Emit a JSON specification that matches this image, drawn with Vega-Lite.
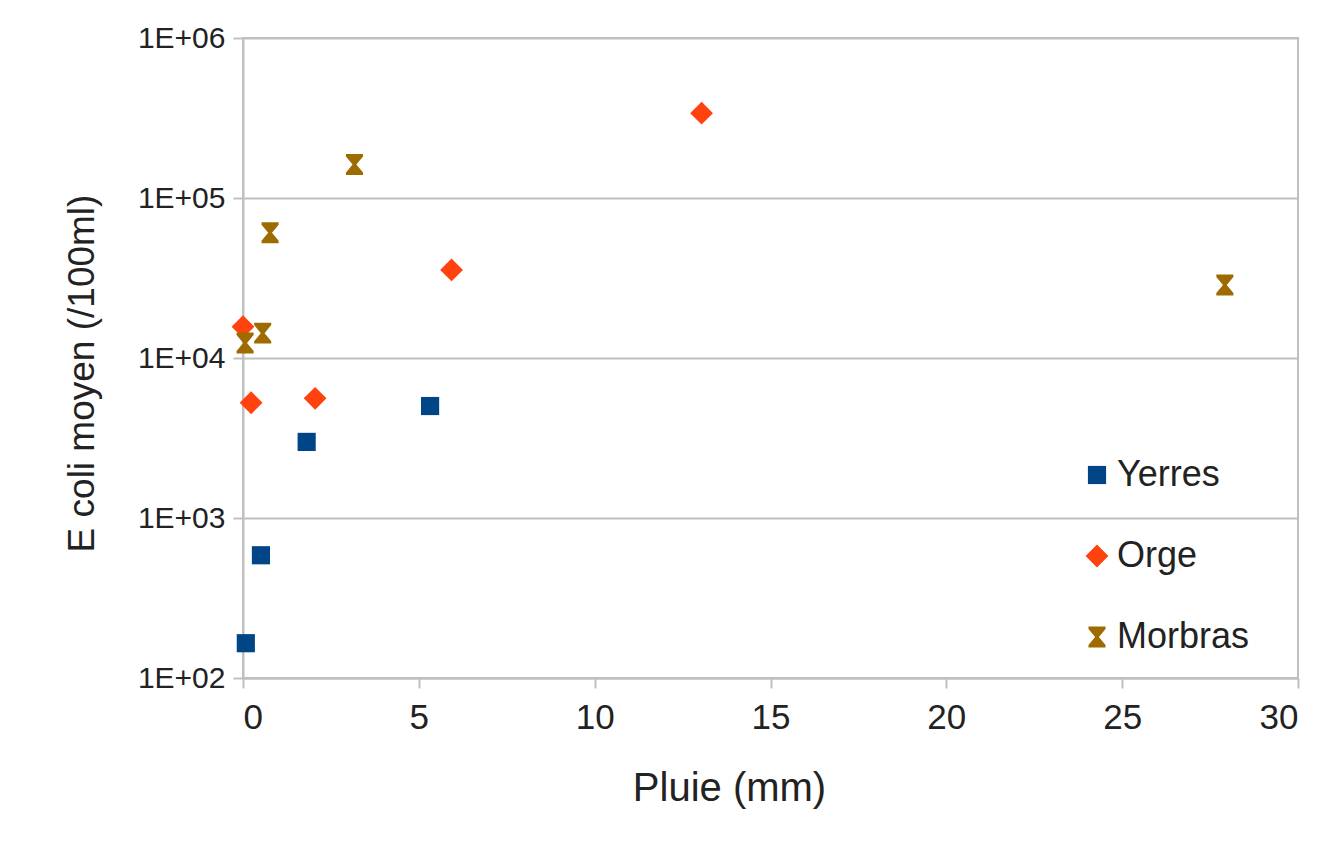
{
  "$schema": "https://vega.github.io/schema/vega-lite/v6.json",
  "width": 1055,
  "height": 640,
  "autosize": "none",
  "padding": {"left": 243, "top": 38, "right": 34, "bottom": 167},
  "background": "white",
  "config": {
    "font": "Liberation Sans",
    "view": {"stroke": "#c0c0c0", "strokeWidth": 2}
  },
  "data": {
    "values": [
      {"serie": "Yerres", "pluie": 0.08, "ecoli": 165},
      {"serie": "Yerres", "pluie": 0.51, "ecoli": 585},
      {"serie": "Yerres", "pluie": 1.81, "ecoli": 2990},
      {"serie": "Yerres", "pluie": 5.32, "ecoli": 5010},
      {"serie": "Orge", "pluie": 0.0, "ecoli": 15700},
      {"serie": "Orge", "pluie": 0.23, "ecoli": 5250},
      {"serie": "Orge", "pluie": 2.05, "ecoli": 5600},
      {"serie": "Orge", "pluie": 5.93, "ecoli": 35500},
      {"serie": "Orge", "pluie": 13.04, "ecoli": 339000},
      {"serie": "Morbras", "pluie": 0.06, "ecoli": 12400},
      {"serie": "Morbras", "pluie": 0.56, "ecoli": 14300},
      {"serie": "Morbras", "pluie": 0.77, "ecoli": 60600},
      {"serie": "Morbras", "pluie": 3.17, "ecoli": 162000},
      {"serie": "Morbras", "pluie": 27.92, "ecoli": 28600}
    ]
  },
  "mark": {"type": "point", "filled": true, "opacity": 1, "strokeWidth": 0},
  "encoding": {
    "x": {
      "field": "pluie",
      "type": "quantitative",
      "scale": {"domain": [0, 30], "nice": false, "zero": false},
      "axis": {
        "title": "Pluie (mm)",
        "titleX": 486,
        "values": [0, 5, 10, 15, 20, 25, 30],
        "format": "d",
        "grid": false,
        "domain": true,
        "domainColor": "#c0c0c0",
        "domainWidth": 2,
        "ticks": true,
        "tickSize": 10,
        "tickColor": "#c0c0c0",
        "tickWidth": 2,
        "labelFontSize": 35,
        "labelColor": "#222222",
        "labelPadding": 12,
        "titleFontSize": 40,
        "titleFontWeight": "normal",
        "titleColor": "#222222",
        "titlePadding": 33
      }
    },
    "y": {
      "field": "ecoli",
      "type": "quantitative",
      "scale": {"type": "log", "domain": [100, 1000000], "nice": false},
      "axis": {
        "title": "E coli moyen (/100ml)",
        "titleY": 335,
        "values": [100, 1000, 10000, 100000, 1000000],
        "labelExpr": "'1E+0' + format(log(datum.value) / LN10, '.0f')",
        "grid": true,
        "gridColor": "#c0c0c0",
        "gridWidth": 2,
        "domain": true,
        "domainColor": "#c0c0c0",
        "domainWidth": 2,
        "ticks": true,
        "tickSize": 10,
        "tickColor": "#c0c0c0",
        "tickWidth": 2,
        "labelFontSize": 30,
        "labelColor": "#222222",
        "labelPadding": 8,
        "titleFontSize": 37,
        "titleFontWeight": "normal",
        "titleColor": "#222222",
        "titlePadding": 36
      }
    },
    "color": {
      "field": "serie",
      "type": "nominal",
      "scale": {"domain": ["Yerres", "Orge", "Morbras"], "range": ["#004586", "#ff420e", "#9e6b00"]},
      "legend": {
        "title": null,
        "orient": "none",
        "legendX": 836,
        "legendY": 419,
        "padding": 0,
        "labelFontSize": 36,
        "labelColor": "#222222",
        "labelOffset": 2,
        "rowPadding": 45,
        "symbolOpacity": 1
      }
    },
    "shape": {
      "field": "serie",
      "type": "nominal",
      "scale": {"domain": ["Yerres", "Orge", "Morbras"], "range": ["square", "diamond", "M-0.9,-1.1L0.9,-1.1L0.9,-0.85L0.2,0L0.9,0.85L0.9,1.1L-0.9,1.1L-0.9,0.85L-0.2,0L-0.9,-0.85Z"]}
    },
    "size": {
      "field": "serie",
      "type": "nominal",
      "scale": {"type": "ordinal", "domain": ["Yerres", "Orge", "Morbras"], "range": [330, 520, 360]}
    }
  }
}
